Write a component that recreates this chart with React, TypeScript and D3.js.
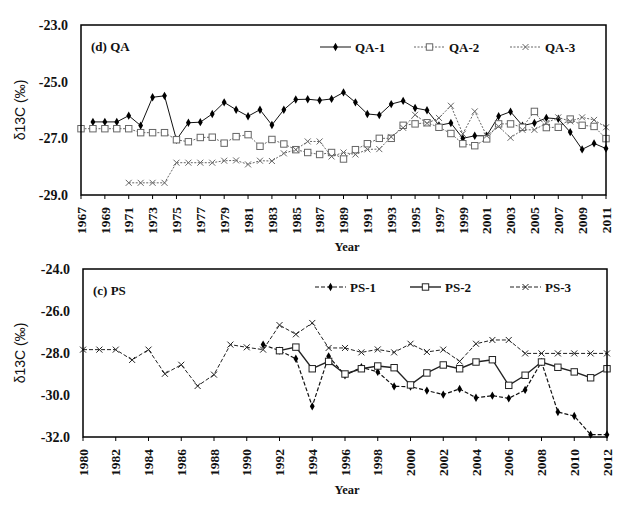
import React from "react";
import * as d3 from "d3";

// ---- Data: panel (d) QA ----
const qaYears = d3.range(1967, 2012);
const qa1: (number | null)[] = [null, -26.42, -26.42, -26.42, -26.2, -26.55, -25.55, -25.5, -27.05, -26.45, -26.43, -26.14, -25.73, -25.99, -26.22, -25.99, -26.53, -25.99, -25.63, -25.62, -25.66, -25.61, -25.38, -25.73, -26.14, -26.18, -25.79, -25.68, -25.93, -26.01, -26.54, -26.46, -27.0, -26.91, -26.91, -26.22, -26.06, -26.55, -26.46, -26.28, -26.31, -26.78, -27.39, -27.18, -27.36];
const qa2: (number | null)[] = [-26.66, -26.66, -26.66, -26.66, -26.66, -26.8, -26.8, -26.8, -27.05, -27.12, -26.97, -26.96, -27.17, -26.94, -26.87, -27.28, -27.04, -27.2, -27.4, -27.5, -27.57, -27.5, -27.73, -27.4, -27.19, -27.0, -27.0, -26.54, -26.49, -26.45, -26.61, -26.83, -27.19, -27.26, -27.02, -26.49, -26.49, -26.61, -26.05, -26.62, -26.61, -26.32, -26.54, -26.58, -27.01];
const qa3: (number | null)[] = [null, null, null, null, -28.57, -28.57, -28.57, -28.57, -27.86, -27.86, -27.86, -27.86, -27.79, -27.78, -27.92, -27.79, -27.8, -27.53, -27.4, -27.11, -27.11, -27.64, -27.5, -27.57, -27.39, -27.38, -26.95, -26.63, -26.17, -26.47, -26.28, -25.85, -26.84, -26.05, -26.91, -26.58, -26.98, -26.7, -26.7, -26.46, -26.26, -26.4, -26.26, -26.35, -26.61];
const qaYTicks = [-23, -25, -27, -29];
const qaXTicks = d3.range(1967, 2012, 2);

// ---- Data: panel (c) PS ----
const psYears = d3.range(1980, 2013);
const ps1: (number | null)[] = [null, null, null, null, null, null, null, null, null, null, null, -27.6, -27.89, -28.27, -30.54, -28.16, -29.06, -28.68, -28.9, -29.59, -29.6, -29.79, -29.98, -29.71, -30.13, -30.03, -30.16, -29.76, -28.43, -30.81, -31.0, -31.89, -31.89];
const ps2: (number | null)[] = [null, null, null, null, null, null, null, null, null, null, null, null, -27.89, -27.72, -28.75, -28.4, -29.0, -28.75, -28.62, -28.7, -29.52, -28.95, -28.57, -28.75, -28.43, -28.32, -29.54, -29.06, -28.43, -28.68, -28.9, -29.18, -28.75];
const ps3: (number | null)[] = [-27.84, -27.84, -27.84, -28.33, -27.84, -28.99, -28.56, -29.57, -29.03, -27.6, -27.73, -27.84, -26.67, -27.11, -26.57, -27.76, -27.76, -27.97, -27.83, -27.97, -27.56, -27.95, -27.84, -28.4, -27.56, -27.38, -27.38, -28.02, -28.02, -28.02, -28.02, -28.02, -28.02];
const psYTicks = [-24, -26, -28, -30, -32];
const psXTicks = d3.range(1980, 2013, 2);

type MarkerKind = "diamond" | "square" | "cross";
interface SeriesDef {
  name: string;
  values: (number | null)[];
  marker: MarkerKind;
  stroke: string;
  dash: string;
  width: number;
}

const SERIF = "'Liberation Serif', 'Times New Roman', serif";

function Marker({ kind, x, y, color }: { kind: MarkerKind; x: number; y: number; color: string }) {
  if (kind === "diamond") {
    const p = d3.symbol().type(d3.symbolDiamond).size(20)();
    return <path d={p || ""} transform={`translate(${x},${y})`} fill="#000" />;
  }
  if (kind === "square") {
    return <rect x={x - 3.2} y={y - 3.2} width={6.4} height={6.4} fill="#fff" stroke={color} strokeWidth={1} />;
  }
  const s = 3;
  return (
    <g stroke={color} strokeWidth={1}>
      <line x1={x - s} y1={y - s} x2={x + s} y2={y + s} />
      <line x1={x - s} y1={y + s} x2={x + s} y2={y - s} />
    </g>
  );
}

interface PanelProps {
  years: number[];
  series: SeriesDef[];
  yDomain: [number, number];
  yTicks: number[];
  xTicks: number[];
  left: number;
  right: number;
  top: number;
  bottom: number;
  label: string;
  legendY: number;
  legendX: number[];
  yearY: number;
}

function Panel(p: PanelProps) {
  const x = d3.scaleLinear().domain([p.years[0], p.years[p.years.length - 1]]).range([p.left, p.right]);
  const y = d3.scaleLinear().domain(p.yDomain).range([p.bottom, p.top]);
  const line = d3
    .line<[number, number | null]>()
    .defined((d) => d[1] !== null)
    .x((d) => x(d[0]))
    .y((d) => y(d[1] as number));
  const midY = (p.top + p.bottom) / 2;
  return (
    <g>
      {/* y tick labels */}
      {p.yTicks.map((t) => (
        <text key={t} x={p.left - 13} y={y(t)} dy="0.35em" textAnchor="end" fontFamily={SERIF} fontWeight="bold" fontSize={14} fill="#111">
          {t.toFixed(1)}
        </text>
      ))}
      {/* y title */}
      <text transform={`translate(20,${midY}) rotate(-90)`} dy="0.35em" textAnchor="middle" fontFamily="'Liberation Sans', Arial, sans-serif" fontSize={14} fill="#111">
        δ13C (‰)
      </text>
      {/* x ticks */}
      {p.xTicks.map((t) => (
        <g key={t}>
          <line x1={x(t)} x2={x(t)} y1={p.bottom} y2={p.bottom + 4} stroke="#000" strokeWidth={1} />
          <text transform={`translate(${x(t)},${p.bottom + 12}) rotate(-90)`} dy="0.35em" textAnchor="end" fontFamily={SERIF} fontWeight="bold" fontSize={13.5} fill="#111">
            {t}
          </text>
        </g>
      ))}
      <text x={347} y={p.yearY} textAnchor="middle" fontFamily={SERIF} fontWeight="bold" fontSize={12.5} fill="#111">
        Year
      </text>
      {/* series */}
      {p.series.map((s) => {
        const pts = p.years.map((yr, i) => [yr, s.values[i]] as [number, number | null]);
        return (
          <g key={s.name}>
            <path d={line(pts) || ""} fill="none" stroke={s.stroke} strokeWidth={s.width} strokeDasharray={s.dash} />
            {pts.filter((d) => d[1] !== null).map((d) => (
              <Marker key={d[0]} kind={s.marker} x={x(d[0])} y={y(d[1] as number)} color={s.stroke} />
            ))}
          </g>
        );
      })}
      {/* frame */}
      <rect x={p.left} y={p.top} width={p.right - p.left} height={p.bottom - p.top} fill="none" stroke="#000" strokeWidth={1.5} />
      {/* panel label */}
      <text x={p.left + 10} y={p.top + 21} dy="0.35em" fontFamily={SERIF} fontWeight="bold" fontSize={13} fill="#111">
        {p.label}
      </text>
      {/* legend */}
      {p.series.map((s, i) => {
        const lx = p.legendX[i];
        return (
          <g key={s.name}>
            <line x1={lx} x2={lx + 31} y1={p.legendY} y2={p.legendY} stroke={s.stroke} strokeWidth={s.width} strokeDasharray={s.dash} />
            <Marker kind={s.marker} x={lx + 15.5} y={p.legendY} color={s.stroke} />
            <text x={lx + 35} y={p.legendY} dy="0.35em" fontFamily={SERIF} fontWeight="bold" fontSize={13} fill="#111">
              {s.name}
            </text>
          </g>
        );
      })}
    </g>
  );
}

export default function App() {
  const qaSeries: SeriesDef[] = [
    { name: "QA-1", values: qa1, marker: "diamond", stroke: "#111", dash: "", width: 1 },
    { name: "QA-2", values: qa2, marker: "square", stroke: "#666", dash: "2,1.5", width: 1 },
    { name: "QA-3", values: qa3, marker: "cross", stroke: "#666", dash: "2,1.5", width: 1 },
  ];
  const psSeries: SeriesDef[] = [
    { name: "PS-1", values: ps1, marker: "diamond", stroke: "#111", dash: "4,2", width: 1.2 },
    { name: "PS-2", values: ps2, marker: "square", stroke: "#222", dash: "", width: 1.4 },
    { name: "PS-3", values: ps3, marker: "cross", stroke: "#222", dash: "4,2", width: 1 },
  ];
  return (
    <svg width={644} height={508} style={{ position: "absolute", left: 0, top: 0, background: "#fff" }}>
      <rect width={644} height={508} fill="#fff" />
      <Panel
        years={qaYears}
        series={qaSeries}
        yDomain={[-29, -23]}
        yTicks={qaYTicks}
        xTicks={qaXTicks}
        left={81}
        right={606}
        top={25}
        bottom={195}
        label="(d) QA"
        legendY={47}
        legendX={[320, 414, 510]}
        yearY={251}
      />
      <Panel
        years={psYears}
        series={psSeries}
        yDomain={[-32, -24]}
        yTicks={psYTicks}
        xTicks={psXTicks}
        left={83}
        right={607}
        top={269}
        bottom={437}
        label="(c) PS"
        legendY={287}
        legendX={[315, 410, 510]}
        yearY={494}
      />
    </svg>
  );
}
